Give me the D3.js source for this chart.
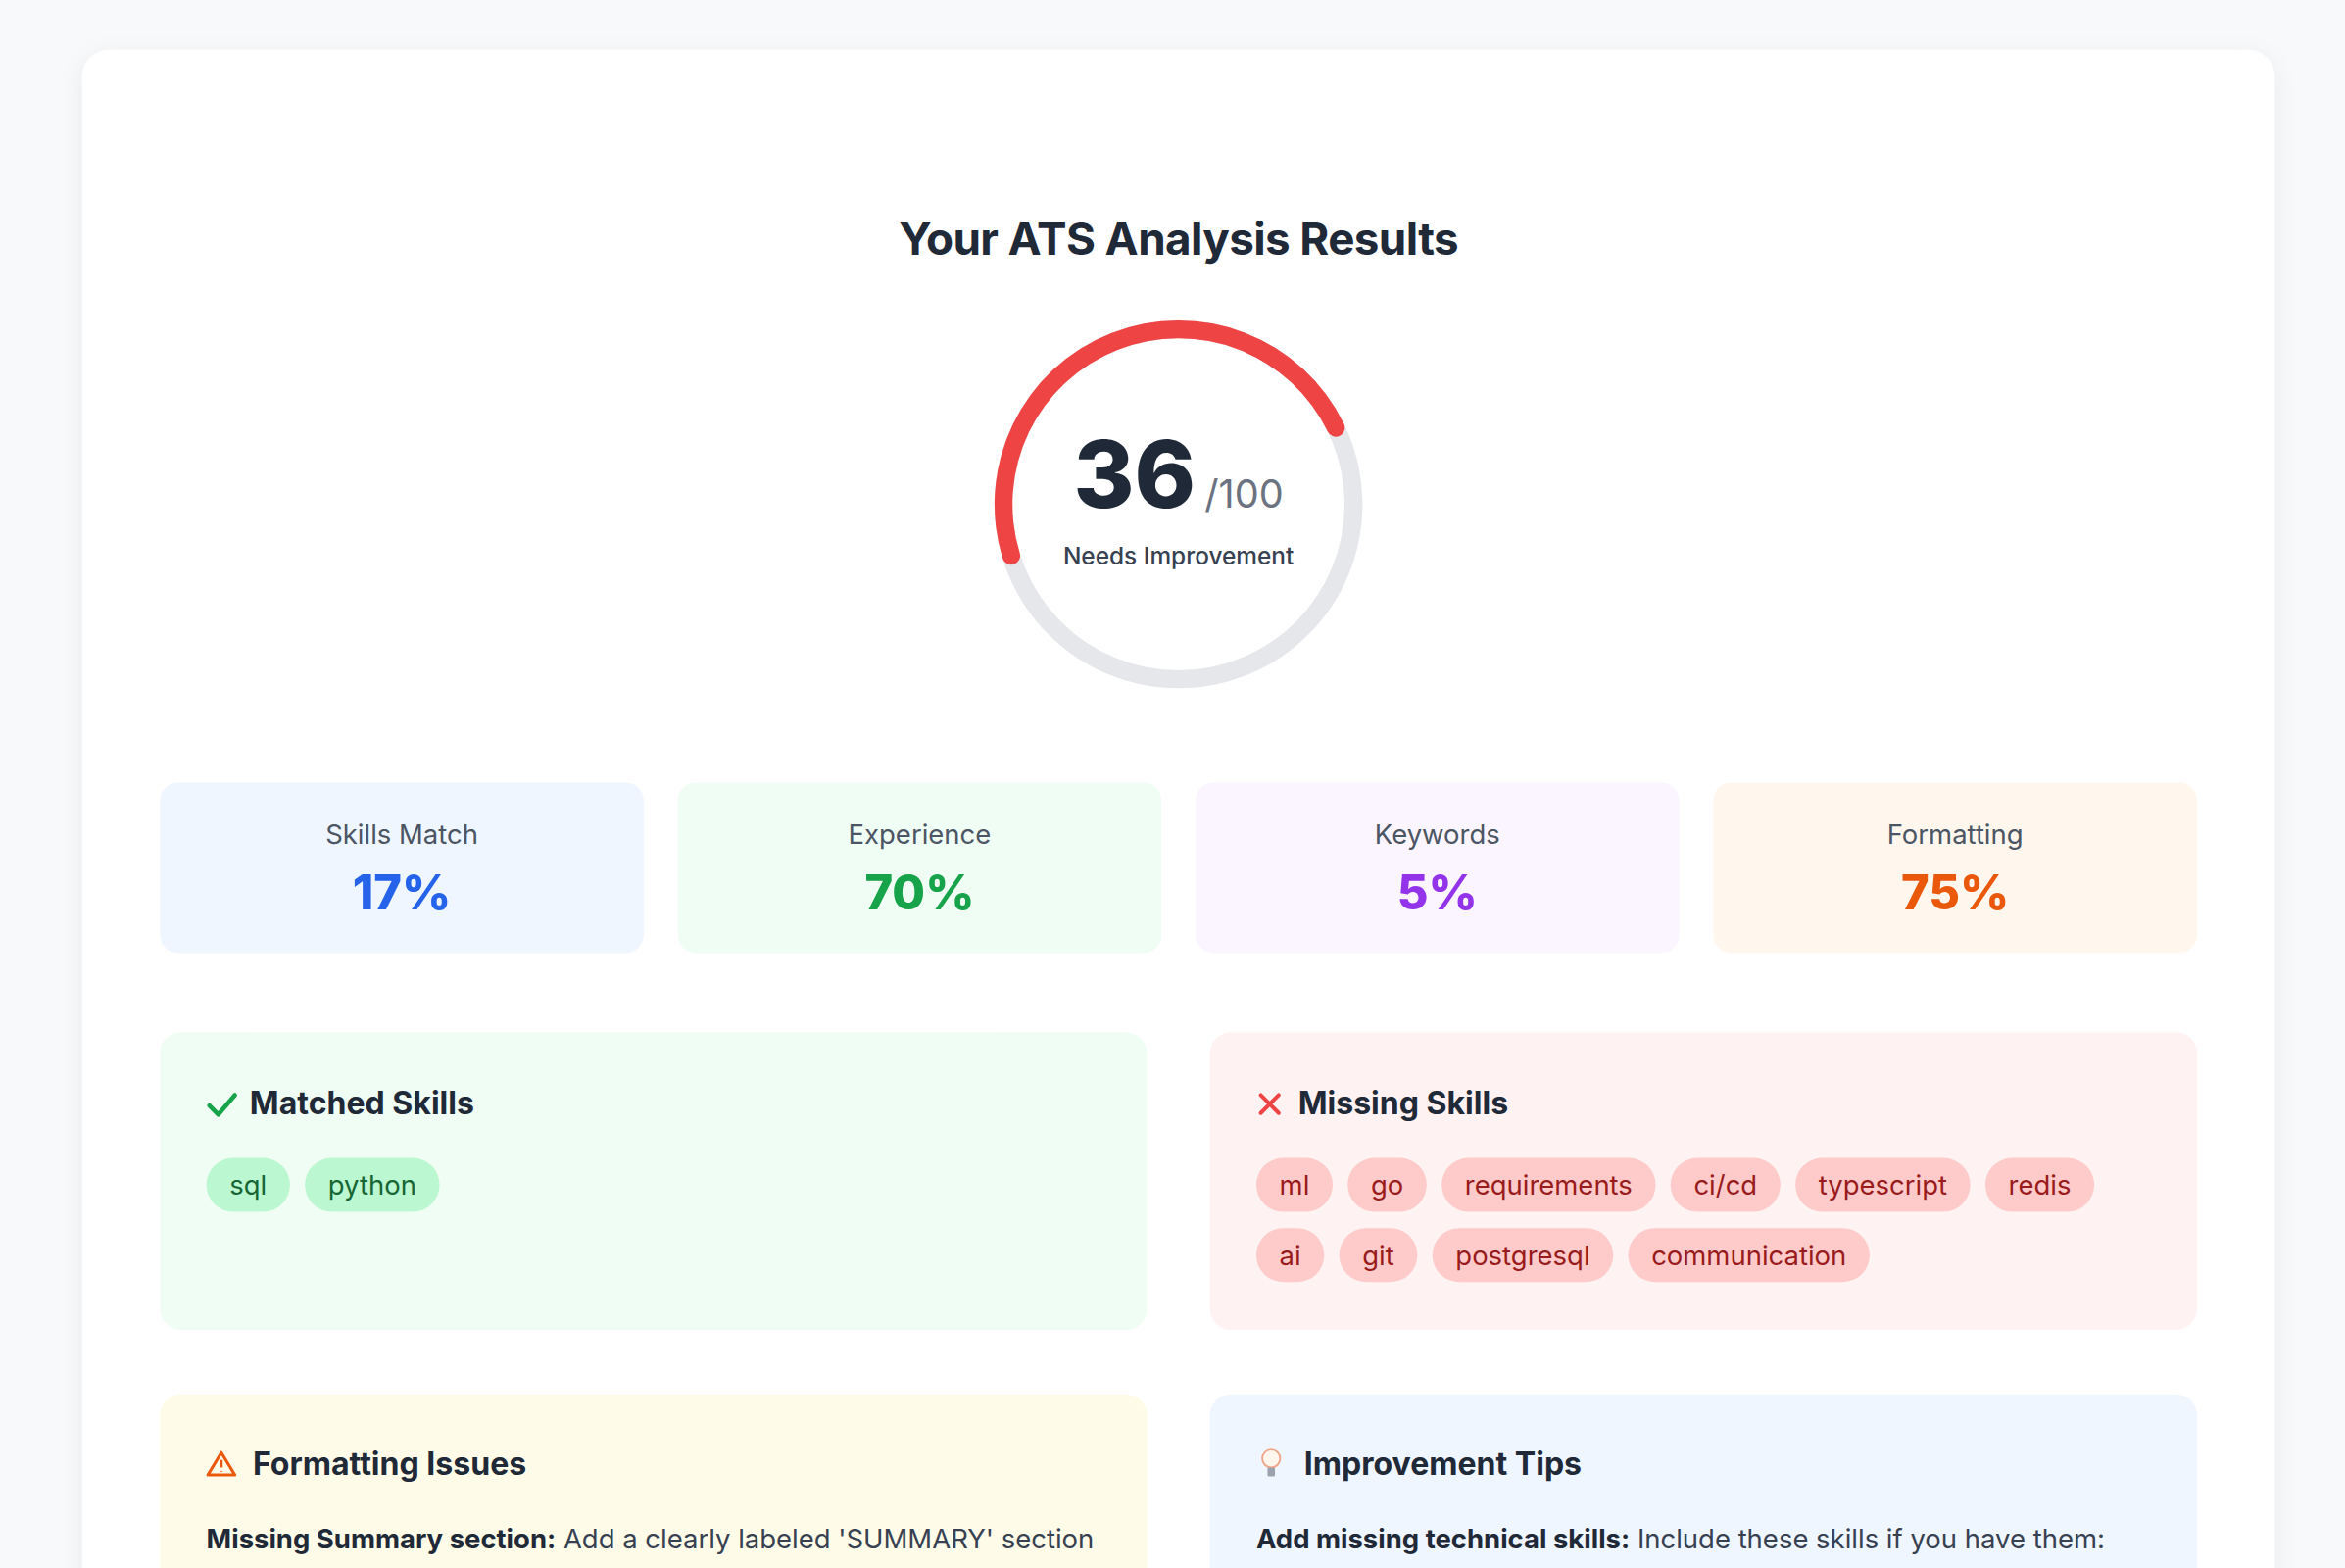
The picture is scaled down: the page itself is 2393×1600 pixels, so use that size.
<!DOCTYPE html>
<html><head><meta charset="utf-8">
<script src="https://cdn.jsdelivr.net/npm/d3@7"></script>
<style>html,body{margin:0;padding:0;background:#f8f9fb;overflow:hidden}svg{display:block}</style>
</head><body>
<svg id="c" width="2393" height="1600" viewBox="0 0 1568 1048"></svg>
<script>
const title = "Your ATS Analysis Results";
const score = 36, scoreMax = 100, scoreLabel = "Needs Improvement";
const gaugeStartDeg = -110, gaugeEndDeg = 67;
const statLabels = ["Skills Match", "Experience", "Keywords", "Formatting"];
const statValues = [17, 70, 5, 75];
const statBg = ["#eff6ff", "#f0fdf4", "#faf5ff", "#fff7ed"];
const statFg = ["#2563eb", "#16a34a", "#9333ea", "#ea580c"];
const matchedSkills = ["sql", "python"];
const missingSkills = ["ml", "go", "requirements", "ci/cd", "typescript", "redis", "ai", "git", "postgresql", "communication"];

const svg = d3.select("#c");
const F = "Inter, 'Noto Sans', sans-serif";
const dark = "#1f2937";
const defs = svg.append("defs");
const f = defs.append("filter").attr("id","sh").attr("x","-5%").attr("y","-5%").attr("width","110%").attr("height","120%");
f.append("feDropShadow").attr("dx",0).attr("dy",4).attr("stdDeviation",8).attr("flood-color","#000").attr("flood-opacity",0.06);

svg.append("rect").attr("width",1568).attr("height",1048).attr("fill","#f8f9fb");
svg.append("rect").attr("x",55).attr("y",33).attr("width",1466).attr("height",1100).attr("rx",18).attr("fill","#fff").attr("filter","url(#sh)");

svg.append("text").attr("x",788).attr("y",170).attr("text-anchor","middle").attr("font-family",F).attr("font-weight",700).attr("font-size",30).attr("fill",dark).attr("letter-spacing",-0.4).text(title);

// gauge
const cx = 788, cy = 337;
const g = svg.append("g").attr("transform",`translate(${cx},${cy})`);
const ang = d3.scaleLinear().domain([0,1]).range([gaugeStartDeg, gaugeEndDeg].map(d=>d*Math.PI/180));
g.append("path").attr("d", d3.arc()({innerRadius:111,outerRadius:123,startAngle:0,endAngle:2*Math.PI})).attr("fill","#e5e7eb");
g.append("path").attr("d", d3.arc().cornerRadius(6)({innerRadius:111,outerRadius:123,startAngle:ang(0),endAngle:ang(1)})).attr("fill","#ef4444");
const st = g.append("text").attr("font-family",F).attr("text-anchor","middle").attr("transform","translate(0,2)");
st.append("tspan").attr("font-size",62).attr("font-weight",800).attr("fill",dark).text(score);
st.append("tspan").attr("font-size",26).attr("fill","#6b7280").attr("dx",6).text("/"+scoreMax);
g.append("text").attr("y",40).attr("text-anchor","middle").attr("font-family",F).attr("font-size",16).attr("font-weight",500).attr("fill","#374151").text(scoreLabel);

// stat boxes
const xb = d3.scaleBand().domain(statLabels).range([107,1469]).paddingInner(0.066);
statLabels.forEach((l,i)=>{
  const x = xb(l), w = xb.bandwidth();
  svg.append("rect").attr("x",x).attr("y",523).attr("width",w).attr("height",114).attr("rx",12).attr("fill",statBg[i]);
  svg.append("text").attr("x",x+w/2).attr("y",564).attr("text-anchor","middle").attr("font-family",F).attr("font-size",18).attr("fill","#4b5563").text(l);
  svg.append("text").attr("x",x+w/2).attr("y",608).attr("text-anchor","middle").attr("font-family",F).attr("font-size",32).attr("font-weight",800).attr("fill",statFg[i]).text(statValues[i]+"%");
});

function panel(x,y,w,h,bg){svg.append("rect").attr("x",x).attr("y",y).attr("width",w).attr("height",h).attr("rx",14).attr("fill",bg);}
function heading(x,y,t){svg.append("text").attr("x",x).attr("y",y).attr("font-family",F).attr("font-size",21).attr("font-weight",700).attr("fill",dark).text(t);}
function pills(list,x0,y0,maxX,bg,fg){
  let x=x0,y=y0;
  list.forEach(s=>{
    const t = svg.append("text").attr("font-family",F).attr("font-size",18).attr("fill",fg).text(s);
    const tw = t.node().getComputedTextLength();
    const w = tw+31;
    if (x+w>maxX){x=x0;y+=47;}
    svg.append("rect").attr("x",x).attr("y",y).attr("width",w).attr("height",36).attr("rx",18).attr("fill",bg);
    t.raise().attr("x",x+15.5).attr("y",y+24.5);
    x+=w+10;
  });
}
panel(107,690,660,199,"#f0fdf4");
svg.append("path").attr("d","M140,739 l6,6 l11,-13").attr("fill","none").attr("stroke","#16a34a").attr("stroke-width",3).attr("stroke-linecap","round").attr("stroke-linejoin","round");
heading(167,745,"Matched Skills");
pills(matchedSkills,138,774,740,"#bbf7d0","#166534");

panel(809,690,660,199,"#fef2f2");
svg.append("path").attr("d","M843,732 l12,12 M855,732 l-12,12").attr("stroke","#ef4444").attr("stroke-width",2.6).attr("stroke-linecap","round");
heading(868,745,"Missing Skills");
pills(missingSkills,840,774,1430,"#fecaca","#991b1b");

panel(107,932,660,200,"#fefce8");
svg.append("path").attr("d","M148,971 L157,986 L139,986 Z").attr("fill","none").attr("stroke","#ea580c").attr("stroke-width",2).attr("stroke-linejoin","round");
svg.append("path").attr("d","M148,976 v5 M148,983.5 v0.5").attr("stroke","#ea580c").attr("stroke-width",1.8);
heading(169,986,"Formatting Issues");
const t1 = svg.append("text").attr("x",138).attr("y",1035).attr("font-family",F).attr("font-size",18).attr("fill","#374151");
t1.append("tspan").attr("font-weight",700).attr("fill",dark).text("Missing Summary section:");
t1.append("tspan").text(" Add a clearly labeled 'SUMMARY' section");

panel(809,932,660,200,"#eff6ff");
svg.append("circle").attr("cx",850).attr("cy",975).attr("r",6).attr("fill","#fff7ed").attr("stroke","#f0a58a").attr("stroke-width",1.2);
svg.append("rect").attr("x",847.5).attr("y",981).attr("width",5).attr("height",6).attr("rx",1).attr("fill","#9ca3af");
heading(872,986,"Improvement Tips");
const t2 = svg.append("text").attr("x",840).attr("y",1035).attr("font-family",F).attr("font-size",18).attr("fill","#374151");
t2.append("tspan").attr("font-weight",700).attr("fill",dark).text("Add missing technical skills:");
t2.append("tspan").text(" Include these skills if you have them:");
</script>
</body></html>
